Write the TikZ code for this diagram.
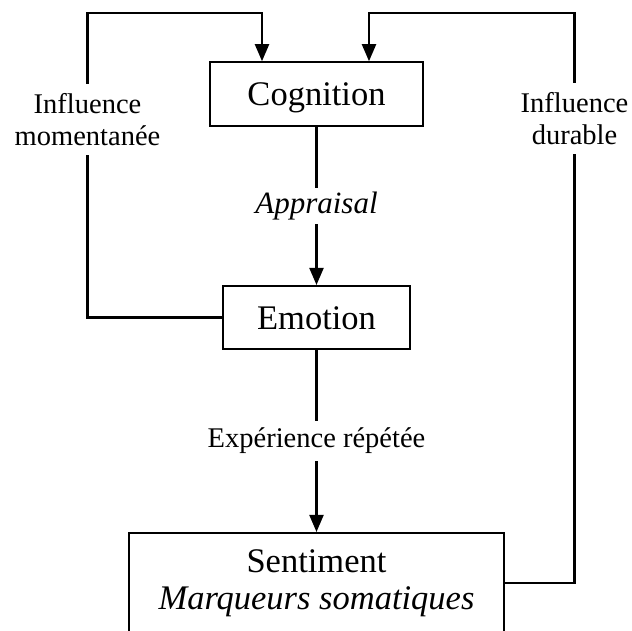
\documentclass[tikz,border=0pt]{standalone}
\usepackage{fontspec}
\setmainfont{Liberation Serif}
\usetikzlibrary{arrows.meta,calc}
\begin{document}
\begin{tikzpicture}[x=1pt,y=-1pt,
  box/.style={draw,line width=2.1pt,rectangle,inner sep=0pt,font=\fontsize{34.5}{37}\selectfont,align=center},
  onebox/.style={box,text height=23pt,text depth=0pt},
  lbl/.style={fill=white,inner xsep=3pt,inner ysep=4pt,font=\fontsize{28.5}{32}\selectfont,align=center},
  conn/.style={line width=2.1pt},
  arr/.style={conn,-{Triangle[length=17pt,width=14pt]}}]
\useasboundingbox (0,0) rectangle (632,630);
\clip (0,0) rectangle (632,630);
\node[onebox,minimum width=213pt,minimum height=63.5pt] (cog) at (316.5,94) {Cognition};
\node[onebox,minimum width=187pt,minimum height=63pt] (emo) at (316.5,317.5) {Emotion};
\node[box,minimum width=375pt,minimum height=100pt] (sent) at (316.5,583) {Sentiment\\\textit{Marqueurs somatiques}};
\coordinate (L1) at (87.5,13);
\coordinate (R1) at (574.5,13);
\coordinate (cogL) at ($(cog.north)+(-54.5,0)$);
\coordinate (cogR) at ($(cog.north)+(52.5,0)$);
\draw[arr] (cog.south) -- node[lbl,font=\fontsize{31}{36}\selectfont\itshape] (appr) {Appraisal} (emo.north);
\draw[arr] (emo.south) -- node[lbl,inner ysep=7pt] (exp) {Expérience répétée} (sent.north);
\draw[arr] (emo.west) -| (L1) -| (cogL);
\draw[arr] (sent.east) -| (R1) -| (cogR);
\node[lbl,inner ysep=9.5pt] (infm) at (87.5,119.5) {Influence\\momentanée};
\node[lbl,inner ysep=9.5pt] (infd) at (574.5,118.5) {Influence\\durable};
\end{tikzpicture}
\end{document}
